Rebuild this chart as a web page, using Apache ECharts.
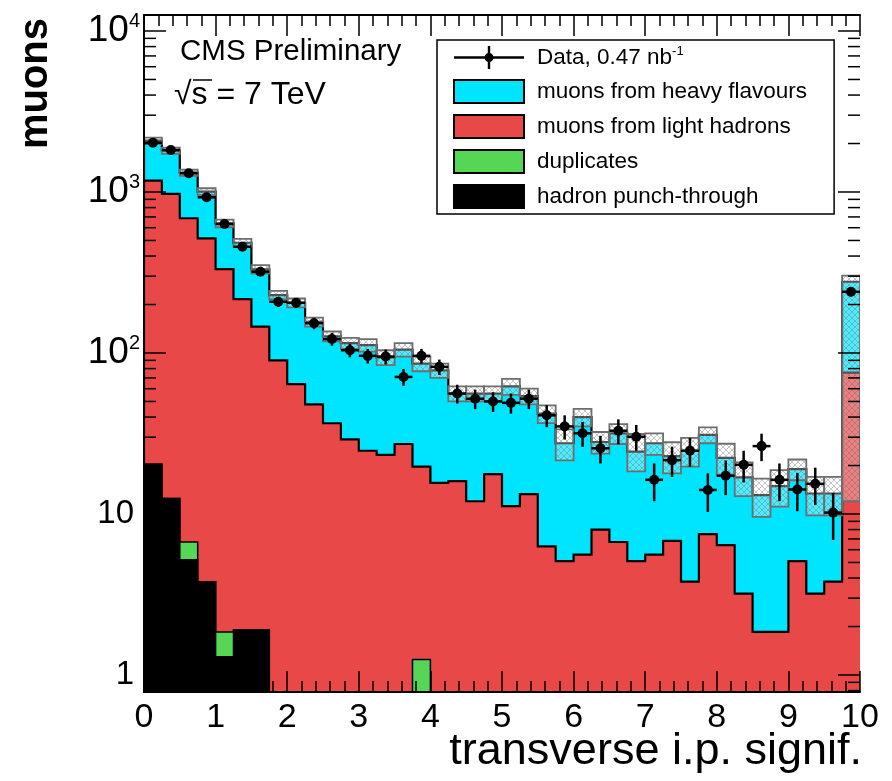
<!DOCTYPE html>
<html>
<head>
<meta charset="utf-8">
<script src="https://cdn.jsdelivr.net/npm/echarts@6/dist/echarts.min.js"></script>
<style>
  html, body { margin: 0; padding: 0; background: #fff; }
  #chart { width: 892px; height: 781px; }
</style>
</head>
<body>
<div id="chart"></div>
<script>
// bins of 0.25 in transverse i.p. significance, 0 .. 10 (40 bins)
var binW = 0.25;
var xTicks = [0, 1, 2, 3, 4, 5, 6, 7, 8, 9, 10];

// stacked MC components (muons per bin)
var punch = [20.4, 12.5, 5.2, 3.8, 1.3, 1.9, 1.9, 0, 0, 0, 0, 0, 0, 0, 0, 0, 0, 0, 0, 0,
  0, 0, 0, 0, 0, 0, 0, 0, 0, 0, 0, 0, 0, 0, 0, 0, 0, 0, 0, 0];
var dup = [0, 0, 1.5, 0, 0.55, 0, 0, 0, 0, 0, 0, 0, 0, 0, 0, 1.25, 0, 0, 0, 0,
  0, 0, 0, 0, 0, 0, 0, 0, 0, 0, 0, 0, 0, 0, 0, 0, 0, 0, 0, 0];
var light = [1155, 960, 680, 511, 330, 214, 144, 90, 64, 48, 36.6, 29.1, 24.7, 23.3, 27.2, 18.45, 15.6, 16, 12, 17.7,
  11.2, 13.3, 6.3, 5.1, 5.6, 8, 6.7, 5.1, 5.6, 6.8, 3.8, 7.5, 6.4, 3.2, 1.85, 1.85, 5.1, 3.2, 3.8, 75.5];
var heavy = [908, 834, 631, 490, 307, 268, 185, 139, 141, 108, 90.4, 85.9, 87.3, 70.7, 77.8, 66.3, 62.4, 40, 44, 38.3,
  50.8, 40.7, 35.7, 22.4, 34.4, 20, 25, 19.3, 21.9, 16.1, 20.9, 23.5, 15.9, 13.7, 11.25, 13.05, 13.9, 10.2, 9.6, 201.5];

// MC uncertainty (hatched boxes)
var mcErrUp = [90, 80, 60, 50, 35, 28, 20, 14, 13, 10, 9, 9, 10, 10, 10, 9, 8, 6, 6, 6,
  7, 6, 5.3, 6, 5, 4.3, 4.5, 7, 4.2, 5, 5, 3.5, 5, 4, 3.5, 3.8, 2.8, 3.6, 3.6, 25];
var mcErrDown = [90, 80, 60, 50, 35, 28, 20, 14, 13, 10, 9, 9, 10, 10, 10, 9, 8, 6, 6, 6,
  7, 6, 5.3, 6, 5, 4.3, 4.5, 6, 4.2, 5, 5, 3.5, 5, 4, 3.5, 3.8, 2.8, 3.6, 3.6, 265];

// data, 0.47 nb-1
var dataVal = [2023, 1823, 1307, 927, 633, 457, 320, 208, 205, 153, 122, 104, 96, 95, 71, 96, 82, 56, 52, 50,
  49, 52, 41, 35, 31.7, 25.6, 32.9, 30.2, 16.3, 21.6, 24.7, 14.1, 17.3, 20.2, 26.4, 16.3, 14.2, 15.4, 10.2, 240];
var dataErr = [45, 43, 36, 30, 25, 21, 18, 14.5, 14.5, 12.5, 11, 10, 10, 10, 8.5, 10, 9, 7.5, 7.2, 7,
  7, 7.2, 6.4, 6, 5.6, 5, 5.8, 5.5, 4.3, 4.6, 5, 3.8, 4.2, 4.5, 5.1, 4.3, 3.8, 4, 3.3, 15.5];

var yMin = 0.784, yMax = 12570;
var FONT = 'Liberation Sans';

// cumulative tops of the stack
var punchTop = punch.slice();
var dupTop = punch.map(function (v, i) { return v + dup[i]; });
var lightTop = dupTop.map(function (v, i) { return v + light[i]; });
var heavyTop = lightTop.map(function (v, i) { return v + heavy[i]; });

function clampY(v) { return Math.max(v, yMin); }

// one filled step polygon per stack level, drawn from the first data item
function layerSeries(name, color, tops, z, lw) {
  return {
    type: 'custom',
    name: name,
    z: z,
    clip: true,
    itemStyle: { color: color },
    encode: { x: [0, 1], y: 2 },
    data: tops.map(function (v, i) { return [i * binW, (i + 1) * binW, clampY(v)]; }),
    renderItem: function (params, api) {
      if (params.dataIndex !== 0) return null;
      var n = tops.length;
      var fillPts = [api.coord([0, yMin])];
      var linePts = [api.coord([0, yMin])];
      for (var i = 0; i < n; i++) {
        var t = clampY(tops[i]);
        var a = api.coord([i * binW, t]);
        var b = api.coord([(i + 1) * binW, t]);
        fillPts.push(a, b);
        linePts.push(a, b);
      }
      fillPts.push(api.coord([n * binW, yMin]));
      return { type: 'group', children: [
        { type: 'polygon', shape: { points: fillPts }, style: { fill: color } },
        { type: 'polyline', shape: { points: linePts }, style: { stroke: '#000', lineWidth: lw, fill: null } }
      ] };
    }
  };
}

// hatch pattern for the MC uncertainty boxes
var hatch = document.createElement('canvas');
hatch.width = 6; hatch.height = 6;
(function () {
  var c = hatch.getContext('2d');
  c.fillStyle = 'rgba(255,255,255,0.3)';
  c.fillRect(0, 0, 6, 6);
  c.strokeStyle = 'rgba(110,110,110,0.4)';
  c.lineWidth = 1;
  c.beginPath();
  c.moveTo(0, 6); c.lineTo(6, 0);
  c.moveTo(0, 0); c.lineTo(6, 6);
  c.stroke();
})();

// tick marks of the log axis (decades long, 2..9 short)
var yTickVals = [];
[-1, 0, 1, 2, 3, 4].forEach(function (k) {
  [1, 2, 3, 4, 5, 6, 7, 8, 9].forEach(function (m) {
    var v = m * Math.pow(10, k);
    if (v > yMin && v < yMax) yTickVals.push([m === 1 ? 1 : 0, v]);
  });
});

var chart = echarts.init(document.getElementById('chart'));

var option = {
  animation: false,
  backgroundColor: '#fff',
  grid: { left: 144, right: 32, top: 15, bottom: 89 },
  legend: {
    orient: 'vertical',
    left: 437,
    top: 40,
    padding: [5, 27, 5, 16],
    itemWidth: 70,
    itemHeight: 23,
    itemGap: 10,
    borderColor: '#000',
    borderWidth: 1.5,
    backgroundColor: '#fff',
    z: 20,
    selectedMode: false,
    textStyle: {
      fontFamily: FONT, fontSize: 22.5, color: '#000', padding: [0, 0, 0, 8],
      rich: { sup: { fontFamily: FONT, fontSize: 13, color: '#000', verticalAlign: 'top', padding: [0, 0, 12, 0] } }
    },
    formatter: function (name) {
      return name === 'Data' ? 'Data, 0.47 nb{sup|-1}' : name;
    },
    data: [
      { name: 'Data', icon: 'path://M0,10.3h70v2.4h-70z M33.8,0h2.4v23h-2.4z M30.5,11.5a4.5,4.5 0 1,1 9,0a4.5,4.5 0 1,1 -9,0z',
        itemStyle: { color: '#000', borderWidth: 0, opacity: 1 } },
      { name: 'muons from heavy flavours', icon: 'rect', itemStyle: { color: '#00e5ff', borderColor: '#000', borderWidth: 2 } },
      { name: 'muons from light hadrons', icon: 'rect', itemStyle: { color: '#e84848', borderColor: '#000', borderWidth: 2 } },
      { name: 'duplicates', icon: 'rect', itemStyle: { color: '#55d655', borderColor: '#000', borderWidth: 2 } },
      { name: 'hadron punch-through', icon: 'rect', itemStyle: { color: '#000', borderColor: '#000', borderWidth: 2 } }
    ]
  },
  xAxis: [
    {
      type: 'value', min: 0, max: 10, interval: 1, z: 10,
      axisLine: { show: true, lineStyle: { color: '#000', width: 2 } },
      axisTick: { show: true, inside: true, length: 21, lineStyle: { color: '#000', width: 1.5 } },
      minorTick: { show: true, splitNumber: 5, length: 11, lineStyle: { color: '#000', width: 1.5 } },
      splitLine: { show: false },
      axisLabel: {
        fontFamily: FONT, fontSize: 34, color: '#000', margin: 9,
        showMinLabel: true, showMaxLabel: true,
        formatter: function (v) { return xTicks.indexOf(v) >= 0 ? String(v) : ''; }
      }
    },
    {
      type: 'value', min: 0, max: 10, interval: 1, position: 'top', z: 10,
      axisLine: { show: true, lineStyle: { color: '#000', width: 2 } },
      axisTick: { show: true, inside: true, length: 21, lineStyle: { color: '#000', width: 1.5 } },
      minorTick: { show: true, splitNumber: 5, length: 11, lineStyle: { color: '#000', width: 1.5 } },
      splitLine: { show: false },
      axisLabel: { show: false }
    }
  ],
  yAxis: [
    {
      type: 'log', logBase: 10, min: yMin, max: yMax, z: 10,
      axisLine: { show: true, lineStyle: { color: '#000', width: 2 } },
      axisTick: { show: false },
      splitLine: { show: false },
      axisLabel: {
        fontFamily: FONT, fontSize: 33, color: '#000', margin: 4,
        formatter: function (v) {
          var l = Math.log10(v), e = Math.round(l);
          if (Math.abs(l - e) > 0.01) return '';
          if (e === 0) return '1{p| }';
          if (e === 1) return '10{p| }';
          return '{b|10}{s|' + e + '}';
        },
        rich: {
          p: { fontFamily: FONT, fontSize: 10, width: 6 },
          b: { fontFamily: FONT, fontSize: 37, color: '#000' },
          s: { fontFamily: FONT, fontSize: 20, color: '#000', verticalAlign: 'top', padding: [0, 0, 20, 0] }
        }
      }
    },
    {
      type: 'log', logBase: 10, min: yMin, max: yMax, position: 'right', z: 10,
      axisLine: { show: true, lineStyle: { color: '#000', width: 2 } },
      axisTick: { show: false },
      splitLine: { show: false },
      axisLabel: { show: false }
    }
  ],
  series: [
    layerSeries('muons from heavy flavours', '#00e5ff', heavyTop, 2, 2.2),
    layerSeries('muons from light hadrons', '#e84848', lightTop, 3, 2.2),
    layerSeries('duplicates', '#55d655', dupTop, 4, 1.5),
    layerSeries('hadron punch-through', '#000', punchTop, 5, 1.5),
    {
      type: 'custom',
      name: 'MC uncertainty',
      z: 6,
      clip: true,
      encode: { x: [0, 1], y: [2, 3] },
      data: heavyTop.map(function (v, i) {
        return [i * binW, (i + 1) * binW, clampY(v - mcErrDown[i]), v + mcErrUp[i]];
      }),
      renderItem: function (params, api) {
        var a = api.coord([api.value(0), api.value(3)]);
        var b = api.coord([api.value(1), api.value(2)]);
        return { type: 'rect', shape: { x: a[0], y: a[1], width: b[0] - a[0], height: b[1] - a[1] },
          style: { fill: { image: hatch, repeat: 'repeat' }, stroke: '#6e6e6e', lineWidth: 1.8 } };
      }
    },
    {
      type: 'custom',
      name: 'Data errors',
      z: 7,
      clip: true,
      encode: { x: [0, 1], y: [2, 3, 4] },
      data: dataVal.map(function (v, i) {
        return [i * binW, (i + 1) * binW, v, v - dataErr[i], v + dataErr[i]];
      }),
      renderItem: function (params, api) {
        var xc = (api.value(0) + api.value(1)) / 2;
        var l = api.coord([api.value(0), api.value(2)]);
        var r = api.coord([api.value(1), api.value(2)]);
        var lo = api.coord([xc, api.value(3)]);
        var hi = api.coord([xc, api.value(4)]);
        return { type: 'group', children: [
          { type: 'line', shape: { x1: l[0], y1: l[1], x2: r[0], y2: r[1] }, style: { stroke: '#000', lineWidth: 2.5 } },
          { type: 'line', shape: { x1: lo[0], y1: lo[1], x2: hi[0], y2: hi[1] }, style: { stroke: '#000', lineWidth: 2.5 } }
        ] };
      }
    },
    {
      type: 'scatter',
      name: 'Data',
      z: 8,
      symbol: 'circle',
      symbolSize: 10,
      itemStyle: { color: '#000', opacity: 1 },
      data: dataVal.map(function (v, i) { return [(i + 0.5) * binW, v]; })
    },
    {
      type: 'custom',
      name: 'y ticks',
      z: 9,
      silent: true,
      encode: { x: 0, y: 1 },
      data: yTickVals,
      renderItem: function (params, api) {
        var len = api.value(0) === 1 ? 22 : 12;
        var l = api.coord([0, api.value(1)]);
        var r = api.coord([10, api.value(1)]);
        return { type: 'group', children: [
          { type: 'line', shape: { x1: l[0], y1: l[1], x2: l[0] + len, y2: l[1] }, style: { stroke: '#000', lineWidth: 1.5 } },
          { type: 'line', shape: { x1: r[0] - len, y1: r[1], x2: r[0], y2: r[1] }, style: { stroke: '#000', lineWidth: 1.5 } }
        ] };
      }
    }
  ],
  graphic: [
    { type: 'text', x: 180, y: 52, z: 30,
      style: { text: 'CMS Preliminary', font: '29.5px "Liberation Sans"', fill: '#000', textVerticalAlign: 'middle' } },
    { type: 'text', x: 174, y: 95, z: 30,
      style: { text: '\u221As = 7 TeV', font: '32px "Liberation Sans"', fill: '#000', textVerticalAlign: 'middle' } },
    { type: 'line', z: 30, shape: { x1: 193, y1: 80, x2: 212, y2: 80 }, style: { stroke: '#000', lineWidth: 1.5 } },
    { type: 'text', x: 36, y: 18, rotation: Math.PI / 2, z: 30,
      style: { text: 'muons', font: 'bold 40px "Liberation Sans"', fill: '#000', textAlign: 'right', textVerticalAlign: 'middle' } },
    { type: 'text', x: 862, y: 752, z: 30,
      style: { text: 'transverse i.p. signif.', font: '45px "Liberation Sans"', fill: '#000', textAlign: 'right', textVerticalAlign: 'middle' } }
  ]
};

chart.setOption(option);
</script>
</body>
</html>
